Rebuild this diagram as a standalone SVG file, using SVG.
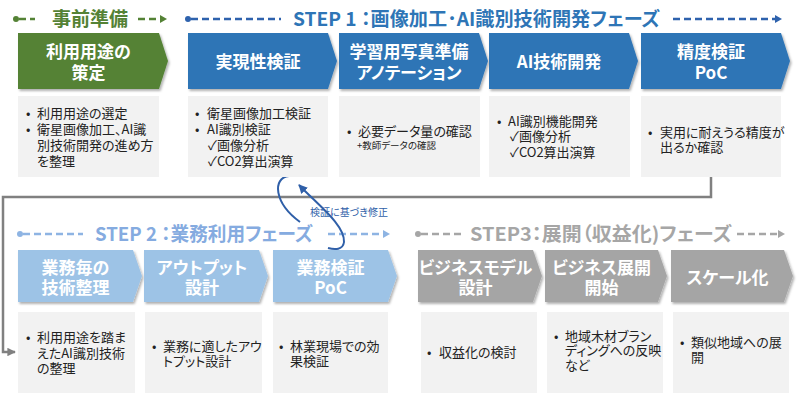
<svg xmlns="http://www.w3.org/2000/svg" width="800" height="393" viewBox="0 0 800 393">
<style>
text{font-family:"Noto Sans CJK JP","Noto Sans",sans-serif;font-feature-settings:"palt";}
.hd{font-size:19px;font-weight:700;}
.cv{font-size:17px;font-weight:700;fill:#fff;text-anchor:middle;}
.bx{fill:#f2f2f2;}
.tx{font-size:13px;fill:#222;}
.sm{font-size:9.5px;}
.lbl{font-size:10px;fill:#2f5fa8;}
.dG{stroke:#548235;stroke-width:2.5;stroke-dasharray:7 4;fill:none;}
.dB{stroke:#2e62ad;stroke-width:2.5;stroke-dasharray:7 4;fill:none;}
.dL{stroke:#8eb4e3;stroke-width:2.5;stroke-dasharray:7 4;fill:none;}
.dY{stroke:#a6a6a6;stroke-width:2.5;stroke-dasharray:7 4;fill:none;}
.green{fill:#548235;}
.blue{fill:#2e75b6;}
.lblue{fill:#9dc3e6;}
.gray{fill:#a5a5a5;}
</style>
<defs>
<filter id="sh" x="-5%" y="-10%" width="115%" height="130%">
<feDropShadow dx="1.5" dy="2" stdDeviation="1" flood-color="#000" flood-opacity="0.3"/>
</filter>
<marker id="arrGray" viewBox="0 0 10 10" refX="9" refY="5" markerWidth="3.4" markerHeight="3.4" orient="auto" markerUnits="strokeWidth">
<path d="M0,0 L10,5 L0,10 z" fill="#808080"/>
</marker>
<marker id="arrLoop" viewBox="0 0 10 10" refX="9" refY="5" markerWidth="4.5" markerHeight="4.5" orient="auto-start-reverse" markerUnits="strokeWidth">
<path d="M0,0 L10,5 L0,10 z" fill="#2f5fa8"/>
</marker>
</defs>

<rect width="800" height="393" fill="#fff"/>

<!-- phase headers -->
<g id="header-prep">
<circle cx="16" cy="19" r="3" fill="#548235"/>
<line x1="19" y1="19" x2="35" y2="19" class="dG"/>
<text x="52" y="26" class="hd" fill="#548235" textLength="76" lengthAdjust="spacingAndGlyphs">事前準備</text>
<line x1="138" y1="19" x2="160" y2="19" class="dG"/>
<polygon points="160,15 167,19 160,23" fill="#548235"/>
</g>
<g id="header-step1">
<circle cx="188" cy="19" r="3" fill="#2e62ad"/>
<line x1="191" y1="19" x2="281" y2="19" class="dB"/>
<text x="293" y="26" class="hd" fill="#2e75b6" textLength="367" lengthAdjust="spacingAndGlyphs">STEP 1 ：画像加工･AI識別技術開発フェーズ</text>
<line x1="673" y1="19" x2="775" y2="19" class="dB"/>
<polygon points="775,15 782,19 775,23" fill="#2e62ad"/>
</g>
<g id="header-step2">
<circle cx="20" cy="234" r="3" fill="#8eb4e3"/>
<line x1="23" y1="234" x2="83" y2="234" class="dL"/>
<text x="95" y="241" class="hd" fill="#85abe0" textLength="218" lengthAdjust="spacingAndGlyphs">STEP 2 ：業務利用フェーズ</text>
<line x1="328" y1="234" x2="383" y2="234" class="dL"/>
<polygon points="383,230 390,234 383,238" fill="#8eb4e3"/>
</g>
<g id="header-step3">
<circle cx="418" cy="234" r="3" fill="#a6a6a6"/>
<line x1="421" y1="234" x2="463" y2="234" class="dY"/>
<text x="470" y="241" class="hd" fill="#a6a6a6" textLength="262" lengthAdjust="spacingAndGlyphs">STEP3：展開（収益化)フェーズ</text>
<line x1="737" y1="234" x2="778" y2="234" class="dY"/>
<polygon points="778,230 785,234 778,238" fill="#a6a6a6"/>
</g>

<!-- connectors -->
<g id="connectors">
<path d="M711,177 V197 H3 V352 H15" fill="none" stroke="#808080" stroke-width="2.5" marker-end="url(#arrGray)"/>
<path d="M289,176 C272,178 274,203 300,222" fill="none" stroke="#2f5fa8" stroke-width="2"/>
<path d="M299,185 C318,205 345,225 344,242 C343,250 335,250 328,248" fill="none" stroke="#2f5fa8" stroke-width="2" marker-start="url(#arrLoop)"/>
<text x="310" y="216" class="lbl">検証に基づき修正</text>
</g>

<!-- top row -->
<g id="n-prep">
<path d="M18,33 H159 L168,61 L159,89 H18 Z" class="green" filter="url(#sh)"/>
<text class="cv"><tspan x="88.5" y="58">利用用途の</tspan><tspan x="88.5" y="79">策定</tspan></text>
<rect x="18" y="96" width="141" height="81" class="bx"/>
<text class="tx"><tspan x="26" y="118">•</tspan><tspan x="37" y="118">利用用途の選定</tspan><tspan x="26" y="134">•</tspan><tspan x="37" y="134">衛星画像加工、AI識</tspan><tspan x="37" y="150">別技術開発の進め方</tspan><tspan x="37" y="166">を整理</tspan></text>
</g>
<g id="n-feasibility">
<path d="M188,33 H328 L337,61 L328,89 H188 Z" class="blue" filter="url(#sh)"/>
<text x="258" y="68" class="cv">実現性検証</text>
<rect x="188" y="96" width="140" height="81" class="bx"/>
<text class="tx"><tspan x="195" y="118">•</tspan><tspan x="207" y="118">衛星画像加工検証</tspan><tspan x="195" y="134">•</tspan><tspan x="207" y="134">AI識別検証</tspan><tspan x="208" y="150">✓画像分析</tspan><tspan x="208" y="166">✓CO2算出演算</tspan></text>
</g>
<g id="n-annotation">
<path d="M339,33 H479 L488,61 L479,89 H339 Z" class="blue" filter="url(#sh)"/>
<text class="cv"><tspan x="409" y="58">学習用写真準備</tspan><tspan x="409" y="79">アノテーション</tspan></text>
<rect x="339" y="96" width="141" height="81" class="bx"/>
<text class="tx"><tspan x="347" y="136">•</tspan><tspan x="358" y="136">必要データ量の確認</tspan><tspan x="357" y="149" class="sm">+教師データの確認</tspan></text>
</g>
<g id="n-aidev">
<path d="M489,33 H629 L638,61 L629,89 H489 Z" class="blue" filter="url(#sh)"/>
<text x="559" y="68" class="cv">AI技術開発</text>
<rect x="489" y="96" width="141" height="81" class="bx"/>
<text class="tx"><tspan x="497" y="126">•</tspan><tspan x="508" y="126">AI識別機能開発</tspan><tspan x="510" y="141">✓画像分析</tspan><tspan x="510" y="157">✓CO2算出演算</tspan></text>
</g>
<g id="n-poc1">
<path d="M641,33 H781 L790,61 L781,89 H641 Z" class="blue" filter="url(#sh)"/>
<text class="cv"><tspan x="711" y="58">精度検証</tspan><tspan x="711" y="79">PoC</tspan></text>
<rect x="641" y="96" width="140" height="81" class="bx"/>
<text class="tx"><tspan x="648" y="137">•</tspan><tspan x="660" y="137">実用に耐えうる精度が</tspan><tspan x="660" y="152">出るか確認</tspan></text>
</g>

<!-- step 2 -->
<g id="n-tech">
<path d="M18,250 H133 L142,276 L133,302 H18 Z" class="lblue" filter="url(#sh)"/>
<text class="cv"><tspan x="75.5" y="274">業務毎の</tspan><tspan x="75.5" y="294">技術整理</tspan></text>
<rect x="18" y="312" width="117" height="81" class="bx"/>
<text class="tx"><tspan x="26" y="342">•</tspan><tspan x="37" y="342">利用用途を踏ま</tspan><tspan x="37" y="358">えたAI識別技術</tspan><tspan x="37" y="373">の整理</tspan></text>
</g>
<g id="n-output">
<path d="M144,250 H259 L268,276 L259,302 H144 Z" class="lblue" filter="url(#sh)"/>
<text class="cv"><tspan x="202" y="274">アウトプット</tspan><tspan x="202" y="294">設計</tspan></text>
<rect x="145" y="312" width="117" height="81" class="bx"/>
<text class="tx"><tspan x="152" y="351">•</tspan><tspan x="163" y="351">業務に適したアウ</tspan><tspan x="163" y="366">トプット設計</tspan></text>
</g>
<g id="n-poc2">
<path d="M273,250 H388 L397,276 L388,302 H273 Z" class="lblue" filter="url(#sh)"/>
<text class="cv"><tspan x="330.5" y="274">業務検証</tspan><tspan x="330.5" y="294">PoC</tspan></text>
<rect x="273" y="312" width="115" height="81" class="bx"/>
<text class="tx"><tspan x="279" y="351">•</tspan><tspan x="290" y="351">林業現場での効</tspan><tspan x="290" y="366">果検証</tspan></text>
</g>

<!-- step 3 -->
<g id="n-bizmodel">
<path d="M418,250 H533 L542,276 L533,302 H418 Z" class="gray" filter="url(#sh)"/>
<text class="cv"><tspan x="475.5" y="274">ビジネスモデル</tspan><tspan x="475.5" y="294">設計</tspan></text>
<rect x="421" y="312" width="116" height="81" class="bx"/>
<text class="tx"><tspan x="427" y="357">•</tspan><tspan x="439" y="357">収益化の検討</tspan></text>
</g>
<g id="n-bizstart">
<path d="M545,250 H658 L667,276 L658,302 H545 Z" class="gray" filter="url(#sh)"/>
<text class="cv"><tspan x="601.5" y="274">ビジネス展開</tspan><tspan x="601.5" y="294">開始</tspan></text>
<rect x="547" y="312" width="116" height="81" class="bx"/>
<text class="tx"><tspan x="554" y="341">•</tspan><tspan x="565" y="341">地域木材ブラン</tspan><tspan x="565" y="355">ディングへの反映</tspan><tspan x="565" y="370">など</tspan></text>
</g>
<g id="n-scale">
<path d="M671,250 H784 L793,276 L784,302 H671 Z" class="gray" filter="url(#sh)"/>
<text x="727.5" y="284" class="cv">スケール化</text>
<rect x="673" y="312" width="116" height="81" class="bx"/>
<text class="tx"><tspan x="680" y="347">•</tspan><tspan x="691" y="347">類似地域への展</tspan><tspan x="691" y="362">開</tspan></text>
</g>
</svg>
